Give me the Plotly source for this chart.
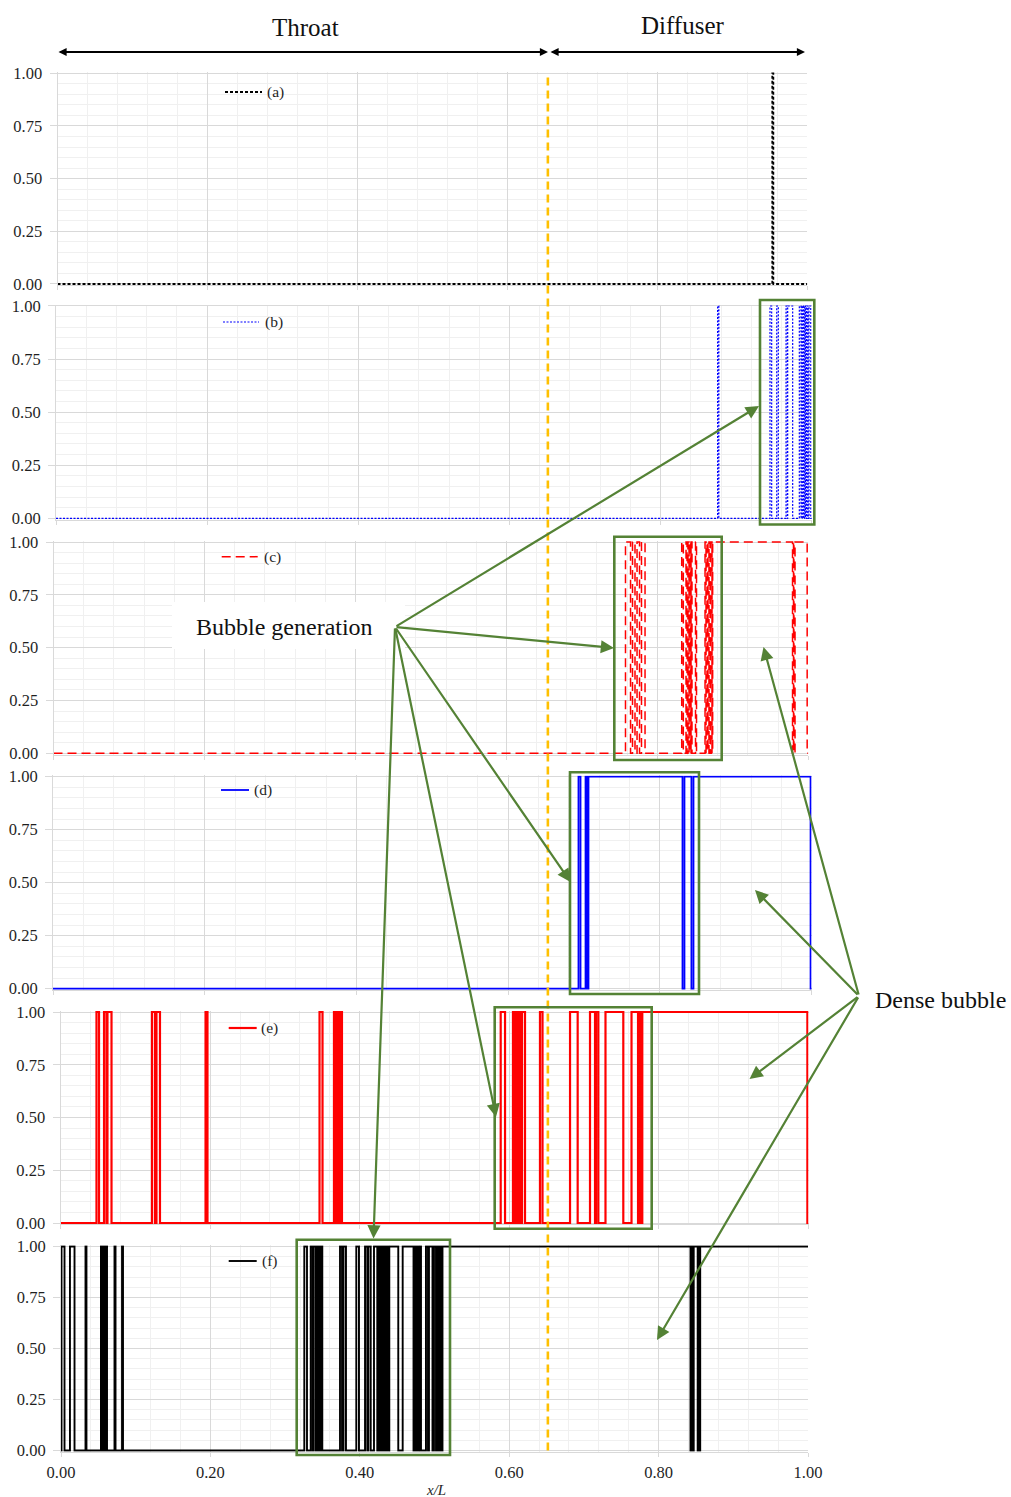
import plotly.graph_objects as go

W, H = 1011, 1497

# Bubble-presence indicator (1 = bubble present) along x/L, stored as the
# spans of x/L over which the indicator equals 1 for each case (a)-(f).
spans_a = [(0.9533, 0.9547)]

spans_b = [(0.8754, 0.8770), (0.9447, 0.9469), (0.9536, 0.9557),
           (0.9659, 0.9677), (0.9681, 0.9747), (0.9835, 0.9857),
           (0.9870, 0.9886), (0.9894, 0.9907), (0.9915, 0.9929),
           (0.9936, 0.9950), (0.9963, 0.9986)]

spans_c = [(0.7578, 0.7645), (0.7671, 0.7704), (0.7731, 0.7764),
           (0.7790, 0.7837), (0.8323, 0.8344), (0.8380, 0.8393),
           (0.8406, 0.8420), (0.8426, 0.8439), (0.8446, 0.8459),
           (0.8506, 0.8519), (0.8632, 0.8645), (0.8658, 0.8671),
           (0.8684, 0.8698), (0.8711, 0.8724), (0.8733, 0.9791),
           (0.9804, 0.9810), (0.9824, 0.9985)]

spans_d = [(0.6926, 0.6953), (0.7019, 0.7038), (0.7058, 0.8297),
           (0.8323, 0.8415), (0.8442, 0.9985)]

spans_e = [(0.0481, 0.0515), (0.0582, 0.0615), (0.0628, 0.0682),
           (0.1223, 0.1263), (0.1283, 0.1330), (0.1939, 0.1965),
           (0.3463, 0.3503), (0.3656, 0.3683), (0.3697, 0.3723),
           (0.3737, 0.3763), (0.5885, 0.5943), (0.6049, 0.6070),
           (0.6076, 0.6096), (0.6103, 0.6116), (0.6130, 0.6150),
           (0.6170, 0.6210), (0.6410, 0.6444), (0.6812, 0.6914),
           (0.7079, 0.7146), (0.7159, 0.7190), (0.7286, 0.7524),
           (0.7634, 0.7721), (0.7741, 0.7761), (0.7778, 0.9985)]

spans_f = [(0.0007, 0.0047), (0.0120, 0.0181), (0.0328, 0.0341),
           (0.0535, 0.0556), (0.0569, 0.0589), (0.0596, 0.0616),
           (0.0716, 0.0730), (0.0817, 0.0830),
           (0.3257, 0.3293), (0.3343, 0.3369), (0.3378, 0.3407),
           (0.3414, 0.3427), (0.3434, 0.3447), (0.3454, 0.3467),
           (0.3474, 0.3498), (0.3735, 0.3762), (0.3782, 0.3815),
           (0.3953, 0.3989), (0.4070, 0.4100), (0.4114, 0.4146),
           (0.4190, 0.4234), (0.4244, 0.4257), (0.4264, 0.4284),
           (0.4290, 0.4311), (0.4317, 0.4331), (0.4337, 0.4357),
           (0.4364, 0.4382), (0.4395, 0.4515), (0.4574, 0.4719),
           (0.4726, 0.4739), (0.4746, 0.4759), (0.4766, 0.4779),
           (0.4786, 0.4799), (0.4806, 0.4819), (0.4886, 0.4913),
           (0.4926, 0.4973), (0.4993, 0.5020), (0.5033, 0.5047),
           (0.5054, 0.5067), (0.5074, 0.5087), (0.5107, 0.8427),
           (0.8440, 0.8454), (0.8470, 0.8523), (0.8537, 0.8548),
           (0.8557, 1.0)]

case_labels = ["(a)", "(b)", "(c)", "(d)", "(e)", "(f)"]
x_ticks = [0.0, 0.2, 0.4, 0.6, 0.8, 1.0]
y_ticks = [0.0, 0.25, 0.5, 0.75, 1.0]
region_names = ["Throat", "Diffuser"]
throat_end = 0.654  # x/L where the throat meets the diffuser


def step_xy(spans):
    """Vertices of the 0/1 indicator polyline for the given on-spans."""
    xs, ys = [0.0], [0]
    for s, e in spans:
        xs += [s, s]
        ys += [0, 1]
        if e >= 1.0:
            xs.append(1.0)
            ys.append(1)
        else:
            xs += [e, e]
            ys += [1, 0]
    if ys[-1] == 0:
        xs.append(1.0)
        ys.append(0)
    return xs, ys


def px(x):
    return x / W


def py(y):
    return 1 - y / H


# panel boxes in page pixels: left, right, top (y=1), bottom (y=0)
boxes = [
    (57.5, 807.3, 73.3, 284.0),
    (56.0, 811.8, 306.0, 518.3),
    (53.5, 808.3, 542.0, 753.3),
    (53.0, 811.7, 776.7, 988.7),
    (60.5, 808.5, 1012.0, 1223.0),
    (61.0, 808.0, 1246.5, 1450.5),
]

styles = [
    dict(color="#000000", width=1.8, dash="3px,2px"),
    dict(color="#0000FF", width=1.2, dash="2px,1.5px"),
    dict(color="#FF0000", width=1.5, dash="9px,5px"),
    dict(color="#0000FF", width=1.8, dash="solid"),
    dict(color="#FF0000", width=2.2, dash="solid"),
    dict(color="#000000", width=1.9, dash="solid"),
]

all_spans = [spans_a, spans_b, spans_c, spans_d, spans_e, spans_f]

SERIF = "Liberation Serif"
GRID = "#d9d9d9"
MINOR = "#f0f0f0"
GREEN = "#548235"
TICK_FONT = dict(family=SERIF, size=16.5, color="#1f1f1f")
PAD = 0.006

fig = go.Figure()
layout = dict(
    template="none",
    width=W, height=H, margin=dict(l=0, r=0, t=0, b=0, autoexpand=False),
    paper_bgcolor="white", plot_bgcolor="white", showlegend=False,
    font=dict(family=SERIF, size=15, color="#262626"),
)

for i, (spans, st, box) in enumerate(zip(all_spans, styles, boxes)):
    n = "" if i == 0 else str(i + 1)
    xl, xr, yt, yb = box
    span_px = yb - yt
    xs, ys = step_xy(spans)
    fig.add_trace(go.Scatter(
        x=xs, y=ys, mode="lines", line=st, name=case_labels[i],
        xaxis="x" + n, yaxis="y" + n, hoverinfo="skip",
    ))
    last = i == len(boxes) - 1
    layout["xaxis" + n] = dict(
        domain=[px(xl), px(xr)], range=[0, 1.0], anchor="y" + n,
        automargin=False,
        tickvals=x_ticks, tickformat=".2f", showticklabels=last,
        showgrid=True, gridcolor=GRID, gridwidth=1,
        minor=dict(dtick=0.04, tick0=0, showgrid=True, gridcolor=MINOR, ticks=""),
        ticks="outside", ticklen=4, tickcolor=GRID, ticklabelstandoff=1,
        showline=True, linecolor=GRID, zeroline=False, fixedrange=True,
        tickfont=TICK_FONT,
    )
    layout["yaxis" + n] = dict(
        domain=[py(yb + PAD * span_px), py(yt - PAD * span_px)],
        range=[-PAD, 1 + PAD], anchor="x" + n,
        automargin=False,
        tickvals=y_ticks, tickformat=".2f",
        showgrid=True, gridcolor=GRID, gridwidth=1,
        minor=dict(dtick=0.05, tick0=0, showgrid=True, gridcolor=MINOR, ticks=""),
        ticks="outside", ticklen=7, tickcolor=GRID, ticklabelstandoff=4,
        showline=True, linecolor=GRID, zeroline=False, fixedrange=True,
        tickfont=TICK_FONT,
    )

shapes = []
annotations = []

# in-plot legend keys: sample line + case label
legend_keys = [
    (225, 262, 92, 265),
    (223, 259, 322, 263),
    (221.7, 257.7, 556.7, 261.5),
    (221, 249, 790, 252),
    (228.7, 256.7, 1028, 258.5),
    (228.7, 256.7, 1261, 259.5),
]
for (x0, x1, yk, xt), st, lab in zip(legend_keys, styles, case_labels):
    shapes.append(dict(type="line", xref="paper", yref="paper",
                       x0=px(x0), x1=px(x1), y0=py(yk), y1=py(yk),
                       line=st, layer="above"))
    annotations.append(dict(text=lab, xref="paper", yref="paper",
                            x=px(xt), y=py(yk), xanchor="left", yanchor="middle",
                            showarrow=False,
                            font=dict(family=SERIF, size=15.5, color="#1f1f1f")))

# throat / diffuser boundary
bx = px(boxes[0][0] + throat_end * (boxes[0][1] - boxes[0][0]))
shapes.append(dict(type="line", xref="paper", yref="paper",
                   x0=bx, x1=bx, y0=py(1450.5), y1=py(73.3),
                   line=dict(color="#FFC000", width=2.6, dash="8px,5px"),
                   layer="above"))

# highlighted regions
green_boxes = [
    (760, 814.3, 300, 524.5),
    (614.3, 721.7, 536.7, 760),
    (570, 699, 772.3, 994),
    (494.7, 651.7, 1007.3, 1228.7),
    (296.7, 450, 1239.7, 1455),
]
for x0, x1, y0, y1 in green_boxes:
    shapes.append(dict(type="rect", xref="paper", yref="paper",
                       x0=px(x0), x1=px(x1), y0=py(y1), y1=py(y0),
                       line=dict(color=GREEN, width=2.6), fillcolor="rgba(0,0,0,0)",
                       layer="above"))

# white panel behind the "Bubble generation" label
shapes.append(dict(type="rect", xref="paper", yref="paper",
                   x0=px(172), x1=px(405), y0=py(649), y1=py(602),
                   line=dict(width=0), fillcolor="white", layer="above"))


def label(text, x, y, size):
    return dict(text=text, xref="paper", yref="paper", x=px(x), y=py(y),
                xanchor="center", yanchor="middle", showarrow=False,
                font=dict(family=SERIF, size=size, color="#111111"))


# region titles with their extent arrows
annotations.append(label(region_names[0], 305.8, 27, 25))
annotations.append(label(region_names[1], 683, 25, 25))
for x_tip, x_tail in [(548, 57), (805, 549)]:
    annotations.append(dict(text="", xref="paper", yref="paper",
                            x=px(x_tip), y=py(52), ax=x_tail - x_tip, ay=0,
                            showarrow=True, arrowhead=2, arrowside="end+start",
                            arrowsize=0.9, arrowwidth=1.8, arrowcolor="#000000",
                            standoff=0, startstandoff=0))

annotations.append(label("Bubble generation", 284, 627, 24))
annotations.append(label("Dense bubble", 940, 1000, 24))

gen_tail = (395, 627)
gen_tips = [(759, 406), (614, 648), (570.5, 882), (496, 1117), (373.5, 1238.5)]
dense_tail = (859, 996)
dense_tips = [(763.5, 647), (755, 890), (749.5, 1079), (657, 1340)]
for tail, tips in [(gen_tail, gen_tips), (dense_tail, dense_tips)]:
    for tx, ty in tips:
        annotations.append(dict(text="", xref="paper", yref="paper",
                                x=px(tx), y=py(ty),
                                ax=tail[0] - tx, ay=tail[1] - ty,
                                showarrow=True, arrowhead=2, arrowsize=1.2,
                                arrowwidth=2.2, arrowcolor=GREEN,
                                standoff=0, startstandoff=0))

annotations.append(dict(text="<i>x/L</i>", xref="paper", yref="paper",
                        x=px(436), y=py(1490), xanchor="center", yanchor="middle",
                        showarrow=False,
                        font=dict(family=SERIF, size=15, color="#262626")))

layout["shapes"] = shapes
layout["annotations"] = annotations
fig.update_layout(**layout)
fig.write_html("out.html")
